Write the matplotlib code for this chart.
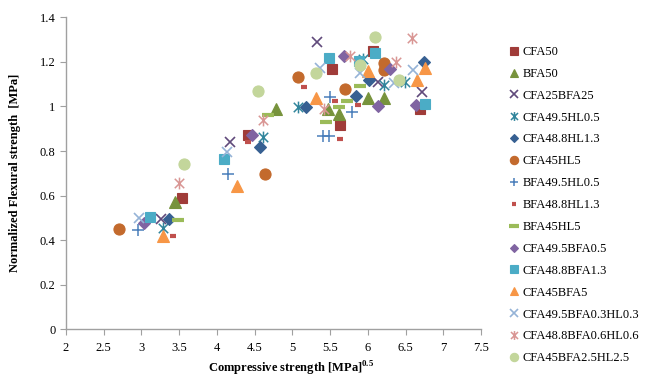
import matplotlib
matplotlib.use("Agg")
import matplotlib.pyplot as plt
from matplotlib.path import Path

plt.rcParams['font.family'] = ['Liberation Serif', 'DejaVu Serif']
plt.rcParams['mathtext.fontset'] = 'custom'
plt.rcParams['mathtext.rm'] = 'Liberation Serif'
plt.rcParams['mathtext.bf'] = 'Liberation Serif:bold'

series_names = ["CFA50", "BFA50", "CFA25BFA25", "CFA49.5HL0.5", "CFA48.8HL1.3",
                "CFA45HL5", "BFA49.5HL0.5", "BFA48.8HL1.3", "BFA45HL5",
                "CFA49.5BFA0.5", "CFA48.8BFA1.3", "CFA45BFA5",
                "CFA49.5BFA0.3HL0.3", "CFA48.8BFA0.6HL0.6", "CFA45BFA2.5HL2.5"]

x_CFA50 = [3.54, 4.41, 5.53, 6.07, 5.63, 6.69]
y_CFA50 = [0.588, 0.872, 1.166, 1.248, 0.917, 0.99]
x_BFA50 = [3.45, 4.78, 5.47, 5.62, 6.00, 6.21]
y_BFA50 = [0.57, 0.99, 0.99, 0.967, 1.037, 1.037]
x_CFA25BFA25 = [3.26, 4.17, 5.32, 6.13, 6.72]
y_CFA25BFA25 = [0.497, 0.842, 1.287, 1.11, 1.065]
x_CFA495HL05 = [3.28, 4.61, 5.08, 5.93, 6.22, 6.49]
y_CFA495HL05 = [0.453, 0.864, 0.996, 1.215, 1.096, 1.111]
x_CFA488HL13 = [3.37, 4.57, 5.18, 5.84, 6.02, 6.74]
y_CFA488HL13 = [0.495, 0.816, 0.996, 1.047, 1.117, 1.198]
x_CFA45HL5 = [2.70, 4.64, 5.08, 5.70, 6.21, 6.22]
y_CFA45HL5 = [0.451, 0.695, 1.133, 1.078, 1.193, 1.163]
x_BFA495HL05 = [2.95, 4.15, 5.50, 5.79, 5.41, 5.49]
y_BFA495HL05 = [0.446, 0.695, 1.042, 0.975, 0.869, 0.869]
x_BFA488HL13 = [3.42, 4.41, 5.16, 5.56, 5.87, 5.63]
y_BFA488HL13 = [0.417, 0.842, 1.086, 1.025, 1.006, 0.853]
x_BFA45HL5 = [3.49, 4.68, 5.90, 5.72, 5.62, 5.45]
y_BFA45HL5 = [0.492, 0.961, 1.092, 1.024, 0.996, 0.929]
x_CFA495BFA05 = [3.04, 4.46, 5.68, 6.29, 6.14, 6.64]
y_CFA495BFA05 = [0.478, 0.872, 1.228, 1.166, 1.002, 1.006]
x_CFA488BFA13 = [3.11, 4.10, 5.49, 5.88, 6.10, 6.76]
y_CFA488BFA13 = [0.505, 0.763, 1.216, 1.206, 1.241, 1.009]
x_CFA45BFA5 = [3.29, 4.26, 5.31, 6.00, 6.65, 6.76]
y_CFA45BFA5 = [0.42, 0.643, 1.04, 1.16, 1.117, 1.174]
x_CFA495BFA03HL03 = [2.97, 4.14, 5.36, 5.90, 6.35, 6.60]
y_CFA495BFA03HL03 = [0.498, 0.797, 1.173, 1.151, 1.106, 1.163]
x_CFA488BFA06HL06 = [3.50, 4.61, 5.42, 5.76, 6.37, 6.59]
y_CFA488BFA06HL06 = [0.658, 0.939, 0.987, 1.227, 1.2, 1.305]
x_CFA45BFA25HL25 = [3.57, 4.54, 5.31, 5.90, 6.10, 6.41]
y_CFA45BFA25HL25 = [0.74, 1.069, 1.148, 1.184, 1.31, 1.118]

xs = [x_CFA50, x_BFA50, x_CFA25BFA25, x_CFA495HL05, x_CFA488HL13, x_CFA45HL5,
      x_BFA495HL05, x_BFA488HL13, x_BFA45HL5, x_CFA495BFA05, x_CFA488BFA13,
      x_CFA45BFA5, x_CFA495BFA03HL03, x_CFA488BFA06HL06, x_CFA45BFA25HL25]
ys = [y_CFA50, y_BFA50, y_CFA25BFA25, y_CFA495HL05, y_CFA488HL13, y_CFA45HL5,
      y_BFA495HL05, y_BFA488HL13, y_BFA45HL5, y_CFA495BFA05, y_CFA488BFA13,
      y_CFA45BFA5, y_CFA495BFA03HL03, y_CFA488BFA06HL06, y_CFA45BFA25HL25]

star = Path([(-1, -1), (1, 1), (-1, 1), (1, -1), (0, -1.25), (0, 1.25)],
            [Path.MOVETO, Path.LINETO, Path.MOVETO, Path.LINETO, Path.MOVETO, Path.LINETO])

# (marker, color, markersize, edge width, filled)
styles = [
    ('s', '#A03C39', 7.5, 0.8, True),
    ('^', '#77933C', 8, 0.8, True),
    ('x', '#604A7B', 7, 1.2, False),
    (star, '#31859C', 8.5, 1.1, False),
    ('D', '#376092', 6, 0.8, True),
    ('o', '#C36A2D', 8, 0.8, True),
    ('+', '#4A7EBB', 8, 1.1, False),
    ('_', '#C0504D', 4.5, 3, False),
    ('_', '#9BBB59', 9, 3, False),
    ('D', '#8064A2', 6, 0.8, True),
    ('s', '#4BACC6', 7.5, 0.8, True),
    ('^', '#F79646', 8, 0.8, True),
    ('x', '#95B3D7', 7, 1.2, False),
    (star, '#D99694', 8.5, 1.1, False),
    ('o', '#C3D69B', 8, 0.8, True),
]

fig = plt.figure(figsize=(6.53, 3.84), dpi=100)
ax = fig.add_axes([66/653, 1-329.3/384, (481-66)/653, (329.3-17.3)/384])

for name, x, y, (m, c, ms, mew, filled) in zip(series_names, xs, ys, styles):
    if filled:
        ax.plot(x, y, linestyle='none', marker=m, markersize=ms, color=c,
                markeredgecolor=c, markeredgewidth=mew, label=name)
    else:
        ax.plot(x, y, linestyle='none', marker=m, markersize=ms, color=c,
                markeredgewidth=mew, label=name)

ax.set_xlim(2, 7.5)
ax.set_ylim(0, 1.4)
ax.set_xticks([2 + 0.5*i for i in range(12)])
ax.set_xticklabels([f"{2 + 0.5*i:g}" for i in range(12)])
ax.set_yticks([0.2*i for i in range(8)])
ax.set_yticklabels([f"{0.2*i:g}" for i in range(8)])
for s in ['top', 'right']:
    ax.spines[s].set_visible(False)
for s in ['left', 'bottom']:
    ax.spines[s].set_color('#A0A0A0')
    ax.spines[s].set_linewidth(1)
ax.tick_params(axis='both', direction='out', color='#A0A0A0', length=4,
               labelsize=9, labelcolor='black')
ax.tick_params(axis='x', pad=5)

fig.text(291/653, 1-369/384, 'Compressive strength [MPa]$^{\\mathbf{0.5}}$',
         ha='center', va='center', fontsize=9, fontweight='bold')
fig.text(15/653, 1-173/384, 'Normalized Flexural strength  [MPa]', rotation=90,
         ha='center', va='center', fontsize=9, fontweight='bold')

leg = fig.legend(loc='upper left', bbox_to_anchor=(505/653, 1-41/384),
                 frameon=False, fontsize=9, markerscale=0.75, handlelength=0.6,
                 handletextpad=0.4, labelspacing=0.79, borderaxespad=0)

fig.savefig('out.png', dpi=100)
